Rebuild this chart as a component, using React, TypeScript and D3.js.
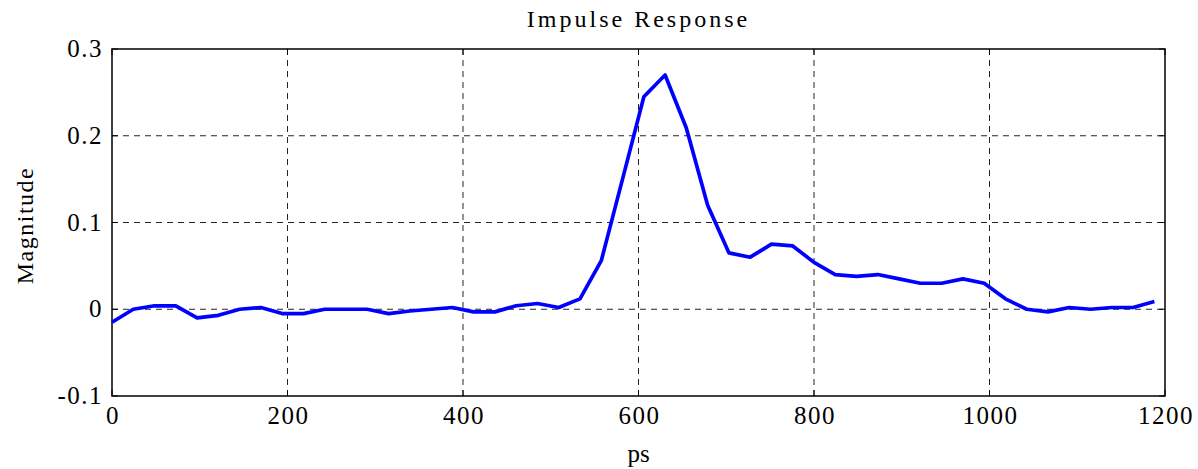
import React from "react";
import * as d3 from "d3";

const timesPs = [
  0, 24.24, 48.48, 72.72, 96.96, 121.2, 145.4, 169.7, 193.9, 218.2,
  242.4, 266.7, 290.9, 315.2, 339.4, 363.6, 387.9, 412.1, 436.4, 460.6,
  484.8, 509.1, 533.3, 557.6, 581.8, 606.1, 630.3, 654.5, 678.8, 703.0,
  727.3, 751.5, 775.8, 800.0, 824.2, 848.5, 872.7, 897.0, 921.2, 945.5,
  969.7, 993.9, 1018.2, 1042.4, 1066.7, 1090.9, 1115.2, 1139.4, 1163.6, 1187.9,
];
const magnitude = [
  -0.015, 0.0, 0.004, 0.004, -0.01, -0.007, 0.0, 0.002, -0.005, -0.005,
  0.0, 0.0, 0.0, -0.005, -0.002, 0.0, 0.002, -0.003, -0.003, 0.004,
  0.0066, 0.002, 0.012, 0.056, 0.15, 0.245, 0.27, 0.209, 0.12, 0.065,
  0.06, 0.075, 0.073, 0.054, 0.04, 0.038, 0.04, 0.035, 0.03, 0.03,
  0.035, 0.03, 0.012, 0.0, -0.003, 0.002, 0.0, 0.002, 0.002, 0.009,
];
const xTicks = [0, 200, 400, 600, 800, 1000, 1200];
const yTicks = [-0.1, 0, 0.1, 0.2, 0.3];
const yTickLabels = ["-0.1", "0", "0.1", "0.2", "0.3"];
const title = "Impulse Response";
const xLabel = "ps";
const yLabel = "Magnitude";

const W = 1198;
const H = 469;
const L = 112, R = 1165, T = 49, B = 396;

export default function App() {
  const x = d3.scaleLinear().domain([0, 1200]).range([L, R]);
  const y = d3.scaleLinear().domain([-0.1, 0.3]).range([B, T]);
  const pts: [number, number][] = timesPs.map((t, i) => [t, magnitude[i]]);
  const line = d3
    .line<[number, number]>()
    .x((d) => x(d[0]))
    .y((d) => y(d[1]));
  const font = "'Liberation Serif', 'Times New Roman', serif";
  return (
    <svg
      width={W}
      height={H}
      style={{ position: "absolute", left: 0, top: 0, display: "block", background: "#fff" }}
    >
      {/* grid */}
      {xTicks.slice(1, -1).map((t) => (
        <line key={"gx" + t} x1={x(t)} x2={x(t)} y1={T} y2={B} stroke="#000" strokeWidth={1} strokeDasharray="6,5" opacity={0.85} />
      ))}
      {yTicks.slice(1, -1).map((t) => (
        <line key={"gy" + t} x1={L} x2={R} y1={y(t)} y2={y(t)} stroke="#000" strokeWidth={1} strokeDasharray="6,5" opacity={0.85} />
      ))}
      {/* tick marks */}
      {xTicks.map((t) => (
        <g key={"tx" + t}>
          <line x1={x(t)} x2={x(t)} y1={B} y2={B - 6} stroke="#000" />
          <line x1={x(t)} x2={x(t)} y1={T} y2={T + 6} stroke="#000" />
        </g>
      ))}
      {yTicks.map((t) => (
        <g key={"ty" + t}>
          <line x1={L} x2={L + 6} y1={y(t)} y2={y(t)} stroke="#000" />
          <line x1={R} x2={R - 6} y1={y(t)} y2={y(t)} stroke="#000" />
        </g>
      ))}
      {/* box */}
      <rect x={L} y={T} width={R - L} height={B - T} fill="none" stroke="#000" strokeWidth={1.5} />
      {/* data line */}
      <path d={line(pts) || ""} fill="none" stroke="#0000ff" strokeWidth={3.7} strokeLinejoin="round" />
      {/* tick labels */}
      {xTicks.map((t) => (
        <text key={"lx" + t} x={x(t) + 1} y={424} textAnchor="middle" fontFamily={font} fontSize={25} letterSpacing={1.5}>
          {String(t)}
        </text>
      ))}
      {yTicks.map((t, i) => (
        <text key={"ly" + t} x={103} y={y(t) + 8} textAnchor="end" fontFamily={font} fontSize={25} letterSpacing={1.5}>
          {yTickLabels[i]}
        </text>
      ))}
      <text x={(L + R) / 2} y={27} textAnchor="middle" fontFamily={font} fontSize={24} letterSpacing={3}>
        {title}
      </text>
      <text x={(L + R) / 2} y={462} textAnchor="middle" fontFamily={font} fontSize={25}>
        {xLabel}
      </text>
      <text
        transform={`translate(33, ${(T + B) / 2 + 3}) rotate(-90)`}
        textAnchor="middle"
        fontFamily={font}
        fontSize={24}
        letterSpacing={1.5}
      >
        {yLabel}
      </text>
    </svg>
  );
}
